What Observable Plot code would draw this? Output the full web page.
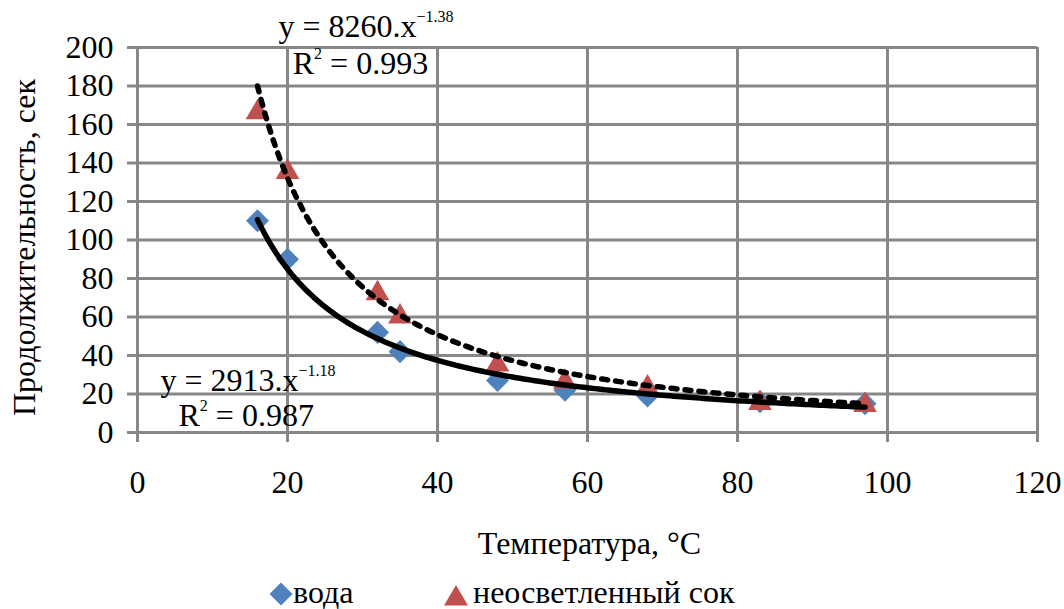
<!DOCTYPE html>
<html>
<head>
<meta charset="utf-8">
<script src="https://cdn.jsdelivr.net/npm/d3@7"></script>
<script src="https://cdn.jsdelivr.net/npm/@observablehq/plot@0.6"></script>
<style>
html, body { margin: 0; padding: 0; background: #fff; overflow: hidden; width: 1064px; height: 609px; }
#wrap { position: relative; width: 1064px; height: 609px; font-family: "Liberation Serif", "Times New Roman", serif; }
#wrap svg { display: block; }
.leg { position: absolute; top: 576px; font-size: 32px; line-height: 32px; white-space: nowrap; color: #000; }
.leg svg { position: absolute; }
</style>
</head>
<body>
<div id="wrap"></div>
<script>
// ---- data ----
const temperatures = [16, 20, 32, 35, 48, 57, 68, 83, 97];
const waterValues  = [110, 90, 52, 42, 27, 22, 19, 16, 15];
const juiceValues  = [168, 137, 74, 62, 37, 28, 25, 17, 16];
const seriesNames  = ["вода", "неосветленный сок"];
const xTicks = [0, 20, 40, 60, 80, 100, 120];
const yTicks = [0, 20, 40, 60, 80, 100, 120, 140, 160, 180, 200];
const xTitle = "Температура, °C";
const yTitle = "Продолжительность, сек";
// power trendlines y = a·x^b (from the chart's equations)
const waterFitA = 2913, waterFitB = -1.18, waterR2 = "0.987";
const juiceFitA = 8260, juiceFitB = -1.38, juiceR2 = "0.993";

// ---- styles ----
const blue = "#4F81BD", red = "#C0504D", gridColor = "#878787";

const waterRows = temperatures.map((t, i) => ({t, v: waterValues[i]}));
const juiceRows = temperatures.map((t, i) => ({t, v: juiceValues[i]}));
const tMin = d3.min(temperatures), tMax = d3.max(temperatures);
const trendX = d3.range(tMin, tMax + 0.001, 0.5);
const waterTrend = trendX.map(t => ({t, v: waterFitA * Math.pow(t, waterFitB)}));
const juiceTrend = trendX.map(t => ({t, v: juiceFitA * Math.pow(t, juiceFitB)}));

const eqTexts = [
  `y = ${juiceFitA}.x^−${Math.abs(juiceFitB)}`,
  `R^2^ = ${juiceR2}`,
  `y = ${waterFitA}.x^−${Math.abs(waterFitB)}`,
  `R^2^ = ${waterR2}`
];
const eqRows = eqTexts.map((s, i) => ({s, x: [18.8, 20.7, 3.07, 5.47][i], y: [205.2, 186, 21.8, 3.6][i]}));

const diamondSymbol = {
  draw(ctx, size) {
    const h = Math.sqrt(size / 2);
    ctx.moveTo(0, -h); ctx.lineTo(h, 0); ctx.lineTo(0, h); ctx.lineTo(-h, 0); ctx.closePath();
  }
};
const triangleSymbol = {
  draw(ctx, size) {
    const a = Math.sqrt(size * 4 / Math.sqrt(3));
    const h = a * Math.sqrt(3) / 2;
    ctx.moveTo(0, -h / 2); ctx.lineTo(a / 2, h / 2); ctx.lineTo(-a / 2, h / 2); ctx.closePath();
  }
};

const svg = Plot.plot({
  width: 1064,
  height: 570,
  marginLeft: 137,
  marginRight: 27,
  marginTop: 47,
  marginBottom: 138,
  x: {domain: [0, 120]},
  y: {domain: [0, 200]},
  style: {fontFamily: '"Liberation Serif", "Times New Roman", serif', fontSize: "32px", color: "#000", background: "#fff", overflow: "visible"},
  marks: [
    Plot.gridX(xTicks, {stroke: gridColor, strokeOpacity: 1, strokeWidth: 3}),
    Plot.gridY(yTicks, {stroke: gridColor, strokeOpacity: 1, strokeWidth: 3}),
    Plot.axisX(xTicks, {tickSize: 10, tickPadding: 28, stroke: gridColor, strokeWidth: 3, label: null, tickFormat: d => String(d)}),
    Plot.axisY(yTicks, {tickSize: 10, tickPadding: 14, stroke: gridColor, strokeWidth: 3, label: null, tickFormat: d => String(d)}),
    Plot.dot(waterRows, {x: "t", y: "v", symbol: diamondSymbol, r: 9.2, fill: blue, stroke: null}),
    Plot.dot(juiceRows, {x: "t", y: "v", symbol: triangleSymbol, r: 8.8, fill: red, stroke: null}),
    Plot.line(waterTrend, {x: "t", y: "v", stroke: "#000", strokeWidth: 5.5, strokeLinecap: "round"}),
    Plot.line(juiceTrend, {x: "t", y: "v", stroke: "#000", strokeWidth: 5.5, strokeDasharray: "6,8", strokeLinecap: "round"}),
    Plot.text([xTitle], {frameAnchor: "bottom", dx: 2, dy: 121, lineAnchor: "bottom", textAnchor: "middle", fill: "#000"}),
    Plot.text([yTitle], {frameAnchor: "left", rotate: -90, dx: -103, dy: 7.5, lineAnchor: "bottom", textAnchor: "middle", fill: "#000"}),
    Plot.text(eqRows, {x: "x", y: "y", text: "s", textAnchor: "start", lineAnchor: "bottom", fill: "#000"})
  ]
});

// superscripts: segments between ^ become raised smaller text
svg.querySelectorAll("text").forEach(t => {
  const s = t.textContent;
  if (!s.includes("^")) return;
  const parts = s.split("^");
  t.textContent = "";
  parts.forEach((p, i) => {
    if (!p) return;
    const ts = document.createElementNS("http://www.w3.org/2000/svg", "tspan");
    ts.textContent = p;
    if (i % 2) { ts.setAttribute("font-size", "16"); ts.setAttribute("dy", "-15"); }
    else if (i > 0) ts.setAttribute("dy", "15");
    t.appendChild(ts);
  });
});

const wrap = document.getElementById("wrap");
wrap.appendChild(svg);

// legend below the chart
function legendItem(left, textLeft, shape, color, label) {
  const div = document.createElement("div");
  div.className = "leg";
  div.style.left = left + "px";
  const ns = "http://www.w3.org/2000/svg";
  const ic = document.createElementNS(ns, "svg");
  ic.setAttribute("width", 26); ic.setAttribute("height", 26);
  ic.style.left = "0px"; ic.style.top = "5px";
  const p = document.createElementNS(ns, "path");
  p.setAttribute("d", shape === "diamond" ? "M13,1.5L24.5,13L13,24.5L1.5,13Z" : "M13,4L25,24.5L1,24.5Z");
  p.setAttribute("fill", color);
  ic.appendChild(p);
  div.appendChild(ic);
  const sp = document.createElement("span");
  sp.textContent = label;
  sp.style.position = "absolute";
  sp.style.left = (textLeft - left) + "px";
  sp.style.top = "0px";
  div.appendChild(sp);
  wrap.appendChild(div);
}
legendItem(268, 293, "diamond", blue, seriesNames[0]);
legendItem(443, 473, "triangle", red, seriesNames[1]);
</script>
</body>
</html>
